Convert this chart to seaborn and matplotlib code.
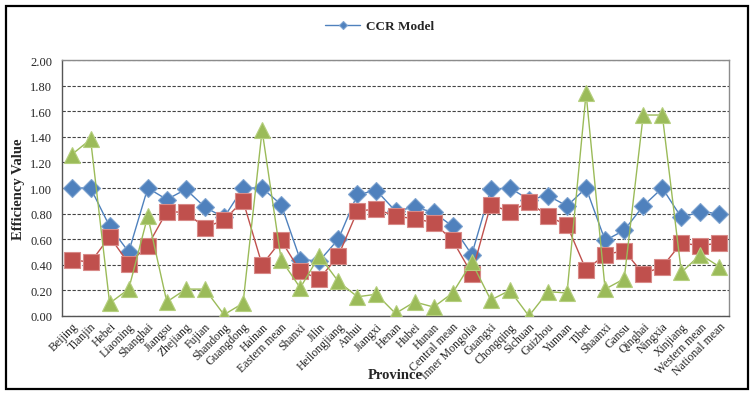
import matplotlib
matplotlib.use("Agg")
import matplotlib.pyplot as plt
import seaborn as sns
import pandas as pd
from matplotlib.patches import Rectangle

provinces = ["Beijing", "Tianjin", "Hebei", "Liaoning", "Shanghai", "Jiangsu", "Zhejiang",
             "Fujian", "Shandong", "Guangdong", "Hainan", "Eastern mean", "Shanxi", "Jilin",
             "Heilongjiang", "Anhui", "Jiangxi", "Henan", "Hubei", "Hunan", "Central mean",
             "Inner Mongolia", "Guangxi", "Chongqing", "Sichuan", "Guizhou", "Yunnan", "Tibet",
             "Shaanxi", "Gansu", "Qinghai", "Ningxia", "Xinjiang", "Western mean", "National mean"]

ccr = [1.00, 1.00, 0.70, 0.50, 1.00, 0.91, 0.99, 0.85, 0.77, 1.00, 1.00, 0.87, 0.44, 0.43,
       0.60, 0.95, 0.98, 0.82, 0.85, 0.81, 0.70, 0.48, 0.99, 1.00, 0.91, 0.94, 0.86, 1.00,
       0.59, 0.67, 0.86, 1.00, 0.77, 0.815, 0.80]
series2 = [0.44, 0.42, 0.62, 0.41, 0.55, 0.815, 0.81, 0.69, 0.75, 0.90, 0.40, 0.59, 0.35, 0.29,
           0.47, 0.82, 0.835, 0.78, 0.76, 0.73, 0.59, 0.33, 0.87, 0.815, 0.89, 0.78, 0.71, 0.36,
           0.48, 0.51, 0.33, 0.385, 0.57, 0.55, 0.57]
series3 = [1.26, 1.38, 0.10, 0.21, 0.78, 0.11, 0.21, 0.21, 0.01, 0.10, 1.45, 0.44, 0.22, 0.47,
           0.27, 0.15, 0.17, 0.02, 0.11, 0.07, 0.18, 0.42, 0.125, 0.20, 0.00, 0.19, 0.18, 1.74,
           0.21, 0.29, 1.57, 1.57, 0.34, 0.48, 0.385]

yticks = [0.0, 0.2, 0.4, 0.6, 0.8, 1.0, 1.2, 1.4, 1.6, 1.8, 2.0]

sns.set_theme(style="white")
plt.rcParams["font.family"] = ["Liberation Serif", "DejaVu Serif"]

df = pd.DataFrame({"Province": provinces, "ccr": ccr, "s2": series2, "s3": series3})

fig = plt.figure(figsize=(7.56, 4.02), dpi=100)
ax = fig.add_axes([62 / 756, 1 - 317 / 402, (729 - 62) / 756, (317 - 61) / 402])

sns.lineplot(data=df, x="Province", y="ccr", ax=ax, sort=False, color="#4F81BD", lw=1.0,
             marker="D", markersize=9, markerfacecolor="#4F81BD", markeredgecolor="#7EA3D0",
             markeredgewidth=0.8, label="CCR Model", zorder=2)
sns.lineplot(data=df, x="Province", y="s2", ax=ax, sort=False, color="#C0504D", lw=1.0,
             marker="s", markersize=11, markerfacecolor="#C0504D", markeredgecolor="#D88A88",
             markeredgewidth=0.8, label="_nolegend_", zorder=3)
sns.lineplot(data=df, x="Province", y="s3", ax=ax, sort=False, color="#9BBB59", lw=1.0,
             marker="^", markersize=12, markerfacecolor="#9BBB59", markeredgecolor="#B5CF7E",
             markeredgewidth=0.8, label="_nolegend_", zorder=4)

ax.set_xlim(-0.5, len(provinces) - 0.5)
ax.set_ylim(0, 2.0)
ax.set_yticks(yticks)
ax.set_yticklabels([f"{v:.2f}" for v in yticks], fontsize=9)
ax.set_xticks(range(len(provinces)))
ax.set_xticklabels(provinces, rotation=45, ha="right", rotation_mode="anchor", fontsize=8.5)
ax.set_xticks([i - 0.5 for i in range(len(provinces) + 1)], minor=True)
ax.tick_params(axis="x", which="major", length=0, pad=3)
ax.tick_params(axis="x", which="minor", length=3, direction="in", color="#555555", width=0.8)
ax.tick_params(axis="y", which="major", length=3, direction="out", color="#555555", pad=4)

ax.yaxis.grid(True, linestyle=(0, (3, 1.5)), color="#444444", lw=0.8)
ax.set_axisbelow(True)
for s in ax.spines.values():
    s.set_color("#8C8C8C")
    s.set_linewidth(1.0)
ax.spines["left"].set_color("#555555")
ax.spines["bottom"].set_color("#555555")

ax.set_xlabel("Province", fontsize=10.5, fontweight="bold")
ax.xaxis.set_label_coords(0.5, -0.205)
ax.set_ylabel("Efficiency Value", fontsize=10.5, fontweight="bold")
ax.yaxis.set_label_coords(-0.056, 0.5)

leg = ax.legend(loc="center", bbox_to_anchor=(380 / 756, 1 - 27 / 402),
                bbox_transform=fig.transFigure, frameon=False,
                prop={"weight": "bold", "size": 9.5}, handlelength=2.6, handletextpad=0.5,
                markerscale=0.5)

fig.patches.append(Rectangle((6 / 756, 1 - 390 / 402), (748 - 6) / 756, (390 - 7) / 402,
                             transform=fig.transFigure, fill=False, edgecolor="black", lw=1.6))

fig.savefig("out.png", dpi=100)
